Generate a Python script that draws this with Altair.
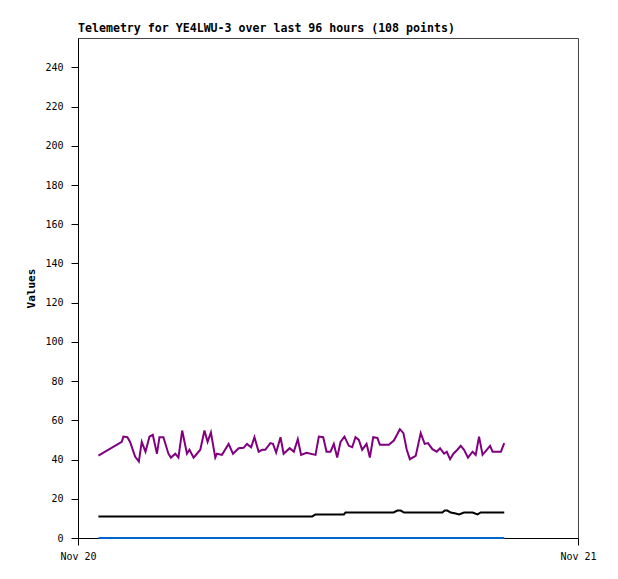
import altair as alt
import pandas as pd

TITLE = "Telemetry for YE4LWU-3 over last 96 hours (108 points)"

# hours after Nov 20 00:00
purple_hours = [0.98, 2.10, 2.18, 2.37, 2.50, 2.74, 2.92, 3.06, 3.24, 3.43, 3.59, 3.79, 3.91, 4.10,
                4.34, 4.46, 4.67, 4.82, 5.00, 5.23, 5.35, 5.55, 5.87, 6.07, 6.22, 6.38, 6.59, 6.67,
                6.91, 7.23, 7.44, 7.71, 7.95, 8.11, 8.31, 8.47, 8.67, 8.84, 8.99, 9.23, 9.36, 9.51,
                9.72, 9.87, 10.16, 10.36, 10.55, 10.71, 10.97, 11.40, 11.56, 11.77, 11.93, 12.12,
                12.28, 12.44, 12.60, 12.79, 13.00, 13.16, 13.32, 13.48, 13.64, 13.85, 14.01, 14.17,
                14.37, 14.49, 14.92, 15.16, 15.33, 15.45, 15.62, 15.78, 15.93, 16.21, 16.45, 16.64,
                16.80, 17.01, 17.22, 17.38, 17.57, 17.70, 17.86, 18.02, 18.21, 18.37, 18.53, 18.72,
                18.94, 19.09, 19.25, 19.42, 19.78, 19.90, 20.30, 20.46]
purple_values = [42, 49, 51.7, 51.4, 49, 41.5, 39, 49, 44, 51.7, 52.6, 43, 51.4, 51.4,
                 43, 41, 43, 41, 54.8, 43, 45, 41, 45, 54.8, 49, 53.8, 41, 43,
                 42.4, 48, 43, 45.8, 46, 48, 46.3, 51.4, 44, 45, 45, 48.4, 48, 43.6,
                 51.4, 43, 45.8, 44, 50.4, 42.4, 43.5, 42.4, 51.7, 51.4, 44, 44,
                 48, 41, 49, 51.7, 47, 46.3, 51.4, 50, 45, 48, 41, 51.4,
                 51, 47.5, 47.5, 49.7, 53, 55.5, 53.5, 45, 40.2, 41.9, 53.5, 48,
                 48.4, 45.3, 44, 45.8, 43, 44, 40.2, 43, 45, 47, 45, 41,
                 44, 42.4, 51.7, 42.4, 47, 44, 44, 48.4]

black_hours = [0.98, 11.24, 11.40, 12.76, 12.84, 15.15, 15.33, 15.49, 15.65, 17.49, 17.60,
               17.73, 17.89, 18.13, 18.29, 18.53, 18.94, 19.18, 19.33, 20.46]
black_values = [11, 11, 12, 12, 13, 13, 14, 14, 13, 13, 14,
                14, 13, 12.5, 12, 13, 13, 12, 13, 13]

blue_hours = [0.98, 20.46]
blue_values = [0, 0]

series_names = ["purple", "black", "blue"]
series_colors = ["#800080", "#000000", "#0066cc"]

y_ticks = [0, 20, 40, 60, 80, 100, 120, 140, 160, 180, 200, 220, 240]
x_ticks = [0, 24]
x_labels = ["Nov 20", "Nov 21"]

rows = []
for name, hs, vs in zip(series_names,
                        [purple_hours, black_hours, blue_hours],
                        [purple_values, black_values, blue_values]):
    for i, (h, v) in enumerate(zip(hs, vs)):
        rows.append({"series": name, "hour": h, "value": v, "order": i})
df = pd.DataFrame(rows)

label_expr = " : ".join(
    f"datum.value == {t} ? '{l}'" for t, l in zip(x_ticks, x_labels)
) + " : ''"

FONT = "DejaVu Sans Mono"

chart = alt.Chart(df).mark_line(strokeWidth=2).encode(
    x=alt.X("hour:Q",
            scale=alt.Scale(domain=[0, 24], nice=False, zero=False),
            axis=alt.Axis(values=x_ticks, labelExpr=label_expr, title=None, grid=False,
                          tickSize=7, tickColor="black", domainColor="black",
                          labelFont=FONT, labelFontSize=10, labelColor="black",
                          labelPadding=6, labelFlush=False, labelAlign="center")),
    y=alt.Y("value:Q",
            scale=alt.Scale(domain=[0, 255], nice=False),
            axis=alt.Axis(values=y_ticks, title="Values", grid=False,
                          tickSize=7, tickColor="black", domainColor="black",
                          labelFont=FONT, labelFontSize=10, labelColor="black",
                          labelPadding=8, titleFont=FONT, titleFontSize=11,
                          titleFontWeight="bold", titleColor="black", titlePadding=8)),
    color=alt.Color("series:N", scale=alt.Scale(domain=series_names, range=series_colors),
                    legend=None),
    detail="series:N",
    order="order:Q",
).properties(
    width=500,
    height=500,
    title=alt.TitleParams(TITLE, anchor="start", frame="group", font=FONT, fontSize=11.6,
                          fontWeight="bold", color="black", offset=3),
    autosize=alt.AutoSizeParams(type="none"),
    padding={"left": 70, "top": 30, "right": 32, "bottom": 33},
).configure_view(
    stroke="#444444", strokeWidth=1
)

chart.save("out.html", embed_options={"renderer": "svg", "actions": False})
